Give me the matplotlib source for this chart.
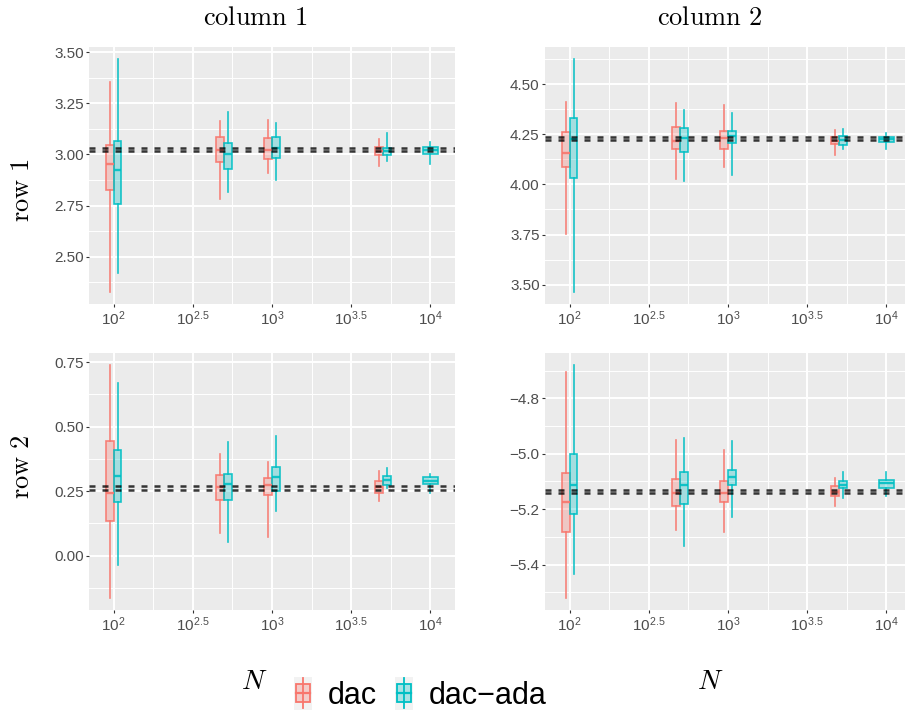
import numpy as np
import matplotlib
matplotlib.use("Agg")
import matplotlib.pyplot as plt
from matplotlib.colors import to_rgba
from matplotlib.legend_handler import HandlerBase
from matplotlib.patches import Rectangle
from matplotlib.lines import Line2D

plt.rcParams["font.family"] = ["Liberation Sans", "DejaVu Sans"]
plt.rcParams["mathtext.fontset"] = "custom"
plt.rcParams["mathtext.rm"] = "Liberation Sans"
plt.rcParams["mathtext.it"] = "Liberation Sans:italic"
plt.rcParams["mathtext.bf"] = "Liberation Sans:bold"

N_VALUES = [100, 500, 1000, 5000, 10000]
METHODS = ["dac", "dac\u2212ada"]
COLORS = ["#F8766D", "#00BFC4"]

# whisker low, q1, median, q3, whisker high (None = no box at that N)
R1C1_DAC = [
    [2.325, 2.828, 2.952, 3.046, 3.357],
    [2.782, 2.961, 3.020, 3.087, 3.162],
    [2.910, 2.980, 3.021, 3.079, 3.167],
    [2.944, 2.995, 3.018, 3.038, 3.074],
    None,
]
R1C1_ADA = [
    [2.420, 2.756, 2.923, 3.067, 3.469],
    [2.818, 2.930, 3.000, 3.054, 3.207],
    [2.877, 2.984, 3.030, 3.087, 3.152],
    [2.966, 2.995, 3.015, 3.030, 3.103],
    [2.952, 3.002, 3.021, 3.038, 3.059],
]
R1C2_DAC = [
    [3.752, 4.088, 4.155, 4.263, 4.412],
    [4.028, 4.177, 4.218, 4.288, 4.405],
    [4.088, 4.177, 4.230, 4.268, 4.395],
    [4.145, 4.200, 4.218, 4.235, 4.272],
    None,
]
R1C2_ADA = [
    [3.462, 4.033, 4.225, 4.333, 4.627],
    [4.018, 4.160, 4.230, 4.283, 4.372],
    [4.048, 4.205, 4.242, 4.268, 4.358],
    [4.175, 4.197, 4.220, 4.242, 4.277],
    [4.175, 4.212, 4.228, 4.238, 4.258],
]
R2C1_DAC = [
    [-0.166, 0.132, 0.242, 0.443, 0.740],
    [0.087, 0.216, 0.266, 0.313, 0.395],
    [0.071, 0.236, 0.272, 0.301, 0.363],
    [0.210, 0.242, 0.266, 0.288, 0.326],
    None,
]
R2C1_ADA = [
    [-0.036, 0.206, 0.310, 0.411, 0.668],
    [0.054, 0.216, 0.278, 0.315, 0.440],
    [0.171, 0.249, 0.304, 0.343, 0.465],
    [0.262, 0.272, 0.291, 0.307, 0.341],
    [0.244, 0.276, 0.289, 0.304, 0.317],
]
R2C2_DAC = [
    [-5.522, -5.281, -5.175, -5.070, -4.706],
    [-5.275, -5.188, -5.141, -5.090, -4.949],
    [-5.283, -5.173, -5.141, -5.099, -4.986],
    [-5.190, -5.153, -5.139, -5.118, -5.088],
    None,
]
R2C2_ADA = [
    [-5.434, -5.219, -5.111, -5.000, -4.678],
    [-5.334, -5.183, -5.114, -5.067, -4.942],
    [-5.227, -5.113, -5.084, -5.058, -4.954],
    [-5.160, -5.124, -5.112, -5.099, -5.064],
    [-5.153, -5.123, -5.105, -5.096, -5.064],
]

# reference (true value) lines
R1C1_REF = [3.017, 3.030]
R1C2_REF = [4.2215, 4.2345]
R2C1_REF = [0.255, 0.268]
R2C2_REF = [-5.142, -5.130]

R1C1_YTICKS = [2.50, 2.75, 3.00, 3.25, 3.50]
R1C2_YTICKS = [3.50, 3.75, 4.00, 4.25, 4.50]
R2C1_YTICKS = [0.00, 0.25, 0.50, 0.75]
R2C2_YTICKS = [-5.4, -5.2, -5.0, -4.8]

X_TICKS = [2.0, 2.5, 3.0, 3.5, 4.0]
X_TICKLABELS = ["$10^{2}$", "$10^{2.5}$", "$10^{3}$", "$10^{3.5}$", "$10^{4}$"]

BOX_W = 0.05
BG = "#EBEBEB"
W, H = 905, 713


class BoxKeyHandler(HandlerBase):
    def create_artists(self, legend, orig_handle, xdescent, ydescent,
                       width, height, fontsize, trans):
        color = orig_handle.get_edgecolor()
        x0, y0 = -xdescent, -ydescent
        bg = Rectangle((x0, y0 - 0.35 * height), width, height * 1.7,
                       facecolor="#F2F2F2", edgecolor="none", transform=trans)
        cx = x0 + width / 2
        cy = y0 + height / 2
        whisk = Line2D([cx, cx], [cy - 0.78 * height, cy + 0.78 * height],
                       color=color, lw=1.3, transform=trans)
        box = Rectangle((x0 + 0.12 * width, cy - 0.45 * height), 0.76 * width,
                        0.9 * height, facecolor=to_rgba(color, 0.3),
                        edgecolor=color, lw=1.3, transform=trans)
        med = Line2D([x0 + 0.12 * width, x0 + 0.88 * width], [cy, cy],
                     color=color, lw=1.6, transform=trans)
        return [bg, whisk, box, med]


def add_px_axes(fig, left, top, right, bottom):
    return fig.add_axes([left / W, 1 - bottom / H, (right - left) / W,
                         (bottom - top) / H])


def draw_panel(ax, dac, ada, refs, yticks, decimals):
    series = [dac, ada]
    all_x = []
    all_y = list(refs)
    for k, (stats, color) in enumerate(zip(series, COLORS)):
        other = series[1 - k]
        pos, wid, summ = [], [], []
        for i, n in enumerate(N_VALUES):
            if stats[i] is None:
                continue
            x = np.log10(n)
            if other[i] is None:
                pos.append(x)
                wid.append(2 * BOX_W)
            else:
                pos.append(x + (k - 0.5) * BOX_W)
                wid.append(BOX_W)
            lo, q1, med, q3, hi = stats[i]
            summ.append(dict(whislo=lo, q1=q1, med=med, q3=q3, whishi=hi,
                             fliers=[]))
            all_x += [pos[-1] - wid[-1] / 2, pos[-1] + wid[-1] / 2]
            all_y += [lo, hi]
        ax.bxp(summ, positions=pos, widths=wid, patch_artist=True,
               showfliers=False, showcaps=False, manage_ticks=False,
               boxprops=dict(facecolor=to_rgba(color, 0.3),
                             edgecolor=to_rgba(color, 0.9), linewidth=1.2),
               whiskerprops=dict(color=to_rgba(color, 0.9), linewidth=1.2),
               medianprops=dict(color=to_rgba(color, 0.9), linewidth=1.7),
               zorder=3)
    for r in refs:
        ax.axhline(r, color="black", alpha=0.78, lw=1.8,
                   linestyle=(0, (2.4, 2.8)), zorder=4)

    x0, x1 = min(all_x), max(all_x)
    dx = 0.05 * (x1 - x0)
    ax.set_xlim(x0 - dx, x1 + dx)
    y0, y1 = min(all_y), max(all_y)
    dy = 0.05 * (y1 - y0)

    ax.set_facecolor(BG)
    for s in ax.spines.values():
        s.set_visible(False)
    ax.set_xticks(X_TICKS)
    ax.set_xticklabels(X_TICKLABELS)
    ax.set_xticks([2.25, 2.75, 3.25, 3.75], minor=True)
    ax.set_yticks(yticks)
    ax.set_yticklabels([f"{v:.{decimals}f}".replace("-", "\u2212") for v in yticks])
    step = yticks[1] - yticks[0]
    ax.set_yticks([yticks[0] - step / 2] + [v + step / 2 for v in yticks], minor=True)
    ax.set_ylim(y0 - dy, y1 + dy)
    ax.grid(which="major", color="white", lw=1.4)
    ax.grid(which="minor", color="white", lw=0.7)
    ax.set_axisbelow(True)
    ax.tick_params(which="major", length=2.3, width=0.8, color="#333333",
                   labelcolor="#4D4D4D", labelsize=11, pad=1.5)
    ax.tick_params(which="minor", length=0)


fig = plt.figure(figsize=(W / 100, H / 100), dpi=100)

ax11 = add_px_axes(fig, 89, 47, 455, 304)
ax12 = add_px_axes(fig, 545, 47, 911, 304)
ax21 = add_px_axes(fig, 89, 353, 455, 610)
ax22 = add_px_axes(fig, 545, 353, 911, 610)

draw_panel(ax11, R1C1_DAC, R1C1_ADA, R1C1_REF, R1C1_YTICKS, 2)
draw_panel(ax12, R1C2_DAC, R1C2_ADA, R1C2_REF, R1C2_YTICKS, 2)
draw_panel(ax21, R2C1_DAC, R2C1_ADA, R2C1_REF, R2C1_YTICKS, 2)
draw_panel(ax22, R2C2_DAC, R2C2_ADA, R2C2_REF, R2C2_YTICKS, 1)

fig.text(255 / W, 1 - 18 / H, r"$\mathrm{column\ 1}$", math_fontfamily="cm",
         fontsize=19, ha="center", va="center")
fig.text(710 / W, 1 - 18 / H, r"$\mathrm{column\ 2}$", math_fontfamily="cm",
         fontsize=19, ha="center", va="center")
fig.text(22 / W, 1 - 190 / H, r"$\mathrm{row\ 1}$", math_fontfamily="cm",
         fontsize=19, ha="center", va="center", rotation=90)
fig.text(22 / W, 1 - 467 / H, r"$\mathrm{row\ 2}$", math_fontfamily="cm",
         fontsize=19, ha="center", va="center", rotation=90)
fig.text(254 / W, 1 - 682 / H, r"$N$", math_fontfamily="cm",
         fontsize=20, ha="center", va="center")
fig.text(710 / W, 1 - 682 / H, r"$N$", math_fontfamily="cm",
         fontsize=20, ha="center", va="center")

handles = [Rectangle((0, 0), 1, 1, edgecolor=c, facecolor=c) for c in COLORS]
fig.legend(handles, METHODS, handler_map={Rectangle: BoxKeyHandler()},
           loc="center", bbox_to_anchor=(420 / W, 1 - 696 / H), ncol=2,
           frameon=False, fontsize=22, handlelength=0.6, handleheight=0.6,
           handletextpad=0.5, columnspacing=0.6, borderpad=0)

fig.savefig("out.png", dpi=100)
